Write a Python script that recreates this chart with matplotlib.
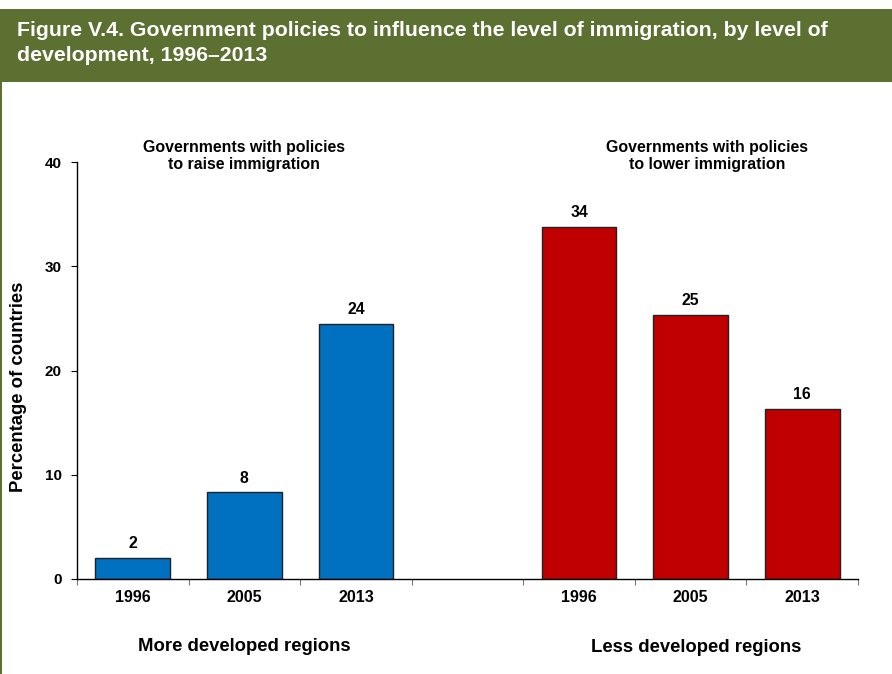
import matplotlib.pyplot as plt
from matplotlib.patches import Rectangle
import numpy as np

plt.rcParams['font.family'] = ['Liberation Sans', 'DejaVu Sans']
plt.rcParams['font.weight'] = 'bold'

years = ["1996", "2005", "2013"]
raise_pct = [2.0, 8.3, 24.5]    # more developed regions, policies to raise immigration
lower_pct = [33.8, 25.3, 16.3]  # less developed regions, policies to lower immigration

title = ("Figure V.4. Government policies to influence the level of immigration, by level of\n"
         "development, 1996\u20132013")

BLUE = "#0070c0"
RED = "#c00000"
GREEN = "#5b7031"

fig = plt.figure(figsize=(8.92, 6.74), dpi=100)
fig.patch.set_facecolor("white")

# header band + thin frame line on the left
fig.patches.append(Rectangle((0, 1 - 82 / 674), 1, 73 / 674, transform=fig.transFigure,
                             facecolor=GREEN, edgecolor="none", zorder=0))
fig.patches.append(Rectangle((0, 0), 2 / 892, 1 - 82 / 674, transform=fig.transFigure,
                             facecolor=GREEN, edgecolor="none", zorder=0))
fig.text(17 / 892, 1 - 21 / 674, title, color="white", fontsize=15.3, fontweight="bold",
         va="top", ha="left", linespacing=1.4)

ax = fig.add_axes([77 / 892, 1 - 579 / 674, 781 / 892, 417 / 674])

x_raise = np.arange(3)
x_lower = np.arange(4, 7)
w = 0.67
bars1 = ax.bar(x_raise, raise_pct, width=w, color=BLUE, edgecolor="#222222", linewidth=1)
bars2 = ax.bar(x_lower, lower_pct, width=w, color=RED, edgecolor="#222222", linewidth=1)

for bars, vals in ((bars1, raise_pct), (bars2, lower_pct)):
    for b, v in zip(bars, vals):
        ax.annotate(f"{round(v)}", (b.get_x() + b.get_width() / 2, v),
                    xytext=(0, 5), textcoords="offset points",
                    ha="center", va="bottom", fontsize=11.3, fontweight="bold")

ax.set_xlim(-0.5, 6.5)
ax.set_ylim(0, 40)
ax.set_yticks([0, 10, 20, 30, 40])
ax.set_xticks(np.arange(-0.5, 7, 1))
ax.set_xticklabels([])
for i, yr in zip(list(x_raise) + list(x_lower), years + years):
    ax.text(i, -1.1, yr, ha="center", va="top", fontsize=11.5, fontweight="bold")

ax.tick_params(axis="x", direction="out", length=4, color="#777777")
ax.tick_params(axis="y", direction="out", length=4, labelsize=11, pad=7)
for lab in ax.get_yticklabels():
    lab.set_fontweight("bold")

ax.spines["top"].set_visible(False)
ax.spines["right"].set_visible(False)
ax.spines["left"].set_linewidth(1)
ax.spines["bottom"].set_linewidth(1)
ax.set_facecolor("none")

fig.text(19 / 892, 1 - 387 / 674, "Percentage of countries", rotation=90,
         ha="center", va="center", fontsize=13.3, fontweight="bold")

ax.text(1, 40.6, "Governments with policies\nto raise immigration", ha="center", va="center",
        fontsize=11.4, fontweight="bold", linespacing=1.15, clip_on=False)
ax.text(5.15, 40.6, "Governments with policies\nto lower immigration", ha="center", va="center",
        fontsize=11.4, fontweight="bold", linespacing=1.15, clip_on=False)

ax.text(1, -6.5, "More developed regions", ha="center", va="center",
        fontsize=13.3, fontweight="bold")
ax.text(5.05, -6.6, "Less developed regions", ha="center", va="center",
        fontsize=13.3, fontweight="bold")

fig.savefig("out.png", dpi=100)
